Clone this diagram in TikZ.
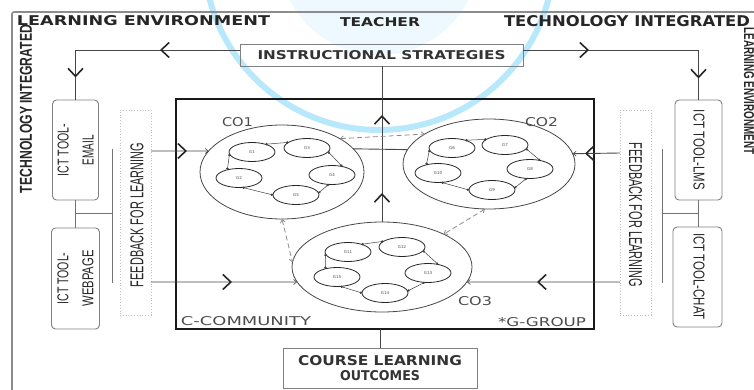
\documentclass[tikz,border=0pt]{standalone}
\usepackage{fontspec}
\usepackage{graphicx}
\setmainfont{DejaVu Sans}
\newfontfamily\narrowf{Liberation Sans}
\usetikzlibrary{arrows.meta,decorations.markings,shapes.geometric}
\newcommand{\rsz}[3]{\resizebox{#1pt}{#2pt}{#3}}
\begin{document}
\begin{tikzpicture}[x=1pt,y=-1pt,
  txt/.style={inner sep=0pt, outer sep=0pt, text=black!85},
  ln/.style={draw=black!72, line width=0.9pt},
  thin/.style={draw=black!55, line width=0.9pt},
  tip/.style={-{Straight Barb[length=3pt,width=5pt,line width=0.6pt]}},
  chevat/.style={postaction={decorate,decoration={markings,mark=at position #1 with {\arrow[black!85, line width=1.6pt]{Straight Barb[length=8pt,width=15pt]}}}}},
  box/.style={draw=black!50, line width=0.9pt, inner sep=0pt, outer sep=0pt, text=black!80},
  rbox/.style={box, rounded corners=4pt},
  fb/.style={draw=black!25, dotted, line width=0.8pt, inner sep=0pt, outer sep=0pt},
  co/.style={ellipse, draw=black!72, line width=0.8pt, inner sep=0pt, outer sep=0pt},
  grp/.style={ellipse, draw=black!85, line width=0.8pt, minimum width=46pt, minimum height=19pt, inner sep=0pt, outer sep=0pt, font=\fontsize{4}{4}\selectfont, text=black!70},
  gl/.style={draw=black!75, line width=0.5pt, {Circle[length=2.4pt]}-{Circle[length=2.4pt]}},
  dsh/.style={draw=black!45, line width=0.8pt, dash pattern=on 5pt off 3pt, {Straight Barb[length=3pt,width=5pt]}-{Straight Barb[length=3pt,width=5pt]}},
  lab/.style={inner sep=0pt, outer sep=0pt, text=black!70}
]
\useasboundingbox (0,0) rectangle (754,390);
% watermark
\fill[cyan!7] (379,-45) circle (100pt);
\draw[cyan!28, line width=6pt] (379,-45) circle (175pt);
% frame
\draw[black!45, line width=1.6pt, rounded corners=2pt] (12,390) -- (12,12) -- (754,12);
% headings
\node[txt] (hle) at (143.5,20.5) {\rsz{253}{10}{\bfseries LEARNING ENVIRONMENT}};
\node[txt] (hte) at (380,22) {\rsz{80}{9}{\bfseries TEACHER}};
\node[txt] (hti) at (627,21) {\rsz{246}{11}{\bfseries TECHNOLOGY INTEGRATED}};
\node[txt, rotate=90] (vti) at (26,109) {\rsz{168}{12}{\narrowf\bfseries TECHNOLOGY INTEGRATED}};
\node[txt, rotate=-90] (vle) at (749,91) {\rsz{127}{10}{\narrowf\bfseries LEARNING ENVIRONMENT}};
% instructional strategies
\node[box, minimum width=283pt, minimum height=22pt] (instr) at (381.5,55) {\rsz{248}{9}{\bfseries INSTRUCTIONAL STRATEGIES}};
% main box
\node[draw=black!90, line width=1.1pt, minimum width=418pt, minimum height=230pt, inner sep=0pt, outer sep=0pt] (main) at (385,214) {};
\node[lab] (ccom) at (246,321) {\rsz{130}{9}{C-COMMUNITY}};
\node[lab] (ggrp) at (542,322) {\rsz{88}{9}{*G-GROUP}};
% course learning outcomes
\node[box, minimum width=194pt, minimum height=40pt, align=center, font=\fontsize{10}{15}\selectfont] (clo) at (380,368) {\rsz{164}{10}{\bfseries COURSE LEARNING}\\\rsz{80}{10}{\bfseries OUTCOMES}};
% ICT tools left
\node[rbox, minimum width=46pt, minimum height=100pt] (email) at (75.5,150) {};
\node[txt, rotate=90, align=center, font=\fontsize{10}{25}\selectfont] (emailt) at (email.center) {\rsz{52}{11}{\narrowf ICT TOOL-}\\\rsz{30}{11}{\narrowf EMAIL}};
\node[rbox, minimum width=48pt, minimum height=101pt] (web) at (75.5,278.5) {};
\node[txt, rotate=90, align=center, font=\fontsize{10}{25}\selectfont] (webt) at (web.center) {\rsz{52}{11}{\narrowf ICT TOOL-}\\\rsz{56}{11}{\narrowf WEBPAGE}};
% ICT tools right
\node[rbox, minimum width=47pt, minimum height=100pt] (lms) at (698.5,150) {};
\node[txt, rotate=-90] (lmst) at (699,150) {\rsz{80}{11}{\narrowf ICT TOOL-LMS}};
\node[rbox, minimum width=49pt, minimum height=100pt] (chat) at (697.5,277) {};
\node[txt, rotate=-90] (chatt) at (699,276.5) {\rsz{87}{11}{\narrowf ICT TOOL-CHAT}};
% feedback boxes
\node[fb, minimum width=31pt, minimum height=205pt] (fbL) at (135.5,212.5) {};
\node[txt, rotate=90] (fbLt) at (137,215) {\rsz{144}{13}{\narrowf FEEDBACK FOR LEARNING}};
\node[fb, minimum width=31pt, minimum height=205pt] (fbR) at (635.5,212.5) {};
\node[txt, rotate=-90] (fbRt) at (635.5,215) {\rsz{144}{13}{\narrowf FEEDBACK FOR LEARNING}};
% communities
\node[co, minimum width=164pt, minimum height=94pt] (CO1) at (282,172) {};
\node[co, minimum width=172pt, minimum height=90pt] (CO2) at (489,164) {};
\node[co, minimum width=180pt, minimum height=90pt] (CO3) at (382,267) {};
\node[lab] (co1l) at (237.5,122) {\rsz{31}{9}{CO1}};
\node[lab] (co2l) at (541.5,122) {\rsz{33}{9}{CO2}};
\node[lab] (co3l) at (475,301.5) {\rsz{34}{9}{CO3}};
% groups CO1
\node[grp] (g1) at (252,152) {G1};
\node[grp] (g3) at (307,148) {G3};
\node[grp] (g4) at (332,175) {G4};
\node[grp] (g5) at (296,195) {G5};
\node[grp] (g2) at (239,178) {G2};
\draw[gl] (g1.30) -- (g3.163);
\draw[gl] (g3.-10) -- (g4.40);
\draw[gl] (g4.-110) -- (g5.5);
\draw[gl] (g5.180) -- (g2.-70);
\draw[gl] (g2.145) -- (g1.185);
% groups CO2
\node[grp] (g6) at (452,148) {G6};
\node[grp] (g7) at (505,145) {G7};
\node[grp] (g8) at (530,169) {G8};
\node[grp] (g9) at (492,190) {G9};
\node[grp] (g10) at (438,173) {G10};
\draw[gl] (g6.30) -- (g7.163);
\draw[gl] (g7.-10) -- (g8.40);
\draw[gl] (g8.-110) -- (g9.5);
\draw[gl] (g9.180) -- (g10.-70);
\draw[gl] (g10.145) -- (g6.185);
% groups CO3
\node[grp] (g11) at (348,252) {G11};
\node[grp] (g12) at (402,247) {G12};
\node[grp] (g13) at (428,273) {G13};
\node[grp] (g14) at (385,293) {G14};
\node[grp] (g15) at (337,277) {G15};
\draw[gl] (g11.30) -- (g12.163);
\draw[gl] (g12.-10) -- (g13.40);
\draw[gl] (g13.-110) -- (g14.5);
\draw[gl] (g14.180) -- (g15.-70);
\draw[gl] (g15.145) -- (g11.185);
% top connectors
\draw[ln, chevat=80pt, chevat=192pt] ([yshift=5pt]instr.west) -| (email.north);
\draw[ln, chevat=66pt, chevat=204pt] ([yshift=5pt]instr.east) -| (lms.north);
\draw[ln, chevat=29pt, chevat=107pt] (CO3.north) -- (CO3.north |- instr.south);
\draw[ln] (CO1.18) -- (CO2.170);
\draw[ln] (clo.north |- main.south) -- (clo.north);
% dashed links
\draw[dsh] (CO1.30) -- (CO2.155);
\draw[dsh] (CO1.-90) -- (CO3.177);
\draw[dsh] (CO2.-95) -- (CO3.28);
% feedback arrows
\coordinate (l1) at (151,151);
\coordinate (l2) at (151,282);
\coordinate (r1) at (620,153);
\coordinate (r2) at (620,282);
\draw[ln, tip, chevat=36pt] (l1) -- (CO1.164);
\draw[ln, tip, chevat=81pt] (l2) -- (CO3.190);
\draw[ln, tip, chevat=35pt] (r1) -- (CO2.7);
\draw[ln, tip, chevat=83pt] (r2) -- (CO3.-10);
% tool connectors
\draw[thin] (email.south) -- (web.north);
\draw[thin] (lms.south) -- (lms.south |- chat.north);
\coordinate (lbt) at (112,149);
\coordinate (lbb) at (112,283);
\coordinate (lj) at (75.5,213);
\draw[thin] (lbt) -- (lbb);
\draw[thin] (lj) -- (lj -| lbt);
\coordinate (rbt) at (662,149);
\coordinate (rbb) at (662,283);
\coordinate (rj) at (698.5,213);
\draw[thin] (rbt) -- (rbb);
\draw[thin] (rj) -- (rj -| rbt);
\end{tikzpicture}
\end{document}
